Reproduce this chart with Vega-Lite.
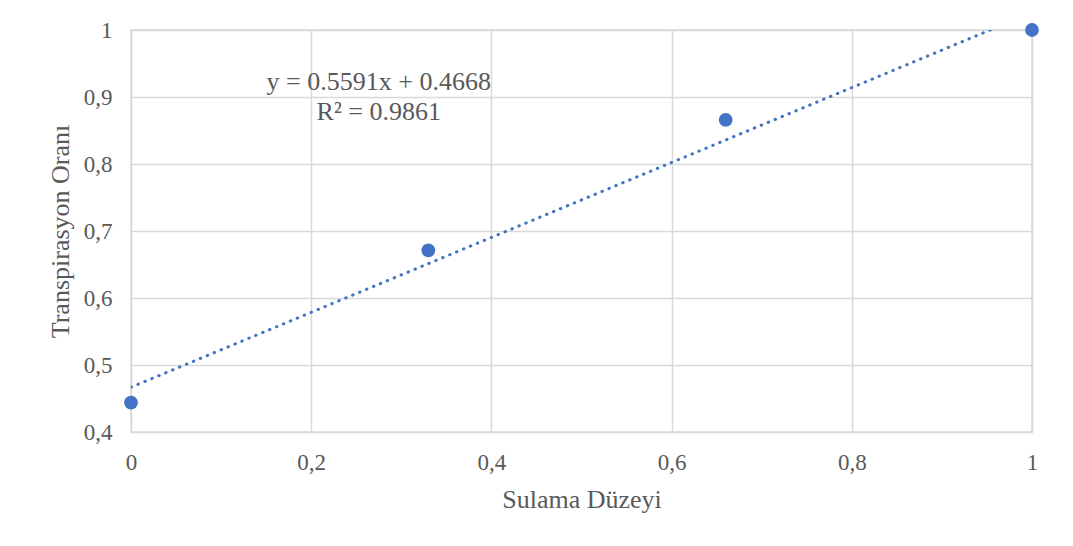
{
  "$schema": "https://vega.github.io/schema/vega-lite/v6.json",
  "autosize": {"type": "none"},
  "width": 901,
  "height": 402,
  "padding": {"left": 131, "top": 30, "right": 41, "bottom": 114},
  "background": "white",
  "config": {
    "view": {"stroke": "#d9d9d9", "strokeWidth": 1.5},
    "font": "Liberation Serif",
    "text": {"font": "Liberation Serif"},
    "axis": {
      "labelFont": "Liberation Serif",
      "titleFont": "Liberation Serif",
      "labelColor": "#595959",
      "titleColor": "#595959",
      "titleFontWeight": "normal",
      "labelFontSize": 23,
      "titleFontSize": 26,
      "gridColor": "#d9d9d9",
      "gridWidth": 1.5,
      "domain": false,
      "ticks": false,
      "labelFlush": false,
      "labelOverlap": false
    }
  },
  "datasets": {
    "points": [
      {"duzey": 0, "oran": 0.444},
      {"duzey": 0.33, "oran": 0.671},
      {"duzey": 0.66, "oran": 0.866},
      {"duzey": 1, "oran": 1.0}
    ],
    "trend": [
      {"duzey": 0, "oran": 0.4668},
      {"duzey": 1, "oran": 1.0259}
    ],
    "label": [
      {"duzey": 0.275, "oran": 0.922, "text": "y = 0.5591x + 0.4668"},
      {"duzey": 0.275, "oran": 0.877, "text": "R² = 0.9861"}
    ]
  },
  "layer": [
    {
      "data": {"name": "trend"},
      "mark": {"type": "line", "clip": true, "color": "#4472C4", "strokeWidth": 3, "strokeDash": [0.5, 7], "strokeCap": "round"},
      "encoding": {
        "x": {"field": "duzey", "type": "quantitative", "scale": {"domain": [0, 1], "nice": false},
          "axis": {"title": "Sulama Düzeyi", "values": [0, 0.2, 0.4, 0.6, 0.8, 1], "labelPadding": 19, "titlePadding": 12,
            "labelFont": "Liberation Serif", "titleFont": "Liberation Serif", "labelFlush": false,
            "labelExpr": "replace(format(datum.value, '~g'), '.', ',')"}},
        "y": {"field": "oran", "type": "quantitative", "scale": {"domain": [0.4, 1], "nice": false, "zero": false},
          "axis": {"title": "Transpirasyon Oranı", "values": [0.4, 0.5, 0.6, 0.7, 0.8, 0.9, 1], "labelPadding": 19, "titlePadding": 10,
            "labelFont": "Liberation Serif", "titleFont": "Liberation Serif", "labelFlush": false,
            "labelExpr": "replace(format(datum.value, '~g'), '.', ',')"}}
      }
    },
    {
      "data": {"name": "points"},
      "mark": {"type": "circle", "size": 190, "color": "#4472C4", "opacity": 1},
      "encoding": {
        "x": {"field": "duzey", "type": "quantitative"},
        "y": {"field": "oran", "type": "quantitative"}
      }
    },
    {
      "data": {"name": "label"},
      "mark": {"type": "text", "font": "Liberation Serif", "fontSize": 26, "color": "#595959", "align": "center", "baseline": "middle"},
      "encoding": {
        "x": {"field": "duzey", "type": "quantitative"},
        "y": {"field": "oran", "type": "quantitative"},
        "text": {"field": "text"}
      }
    }
  ]
}
